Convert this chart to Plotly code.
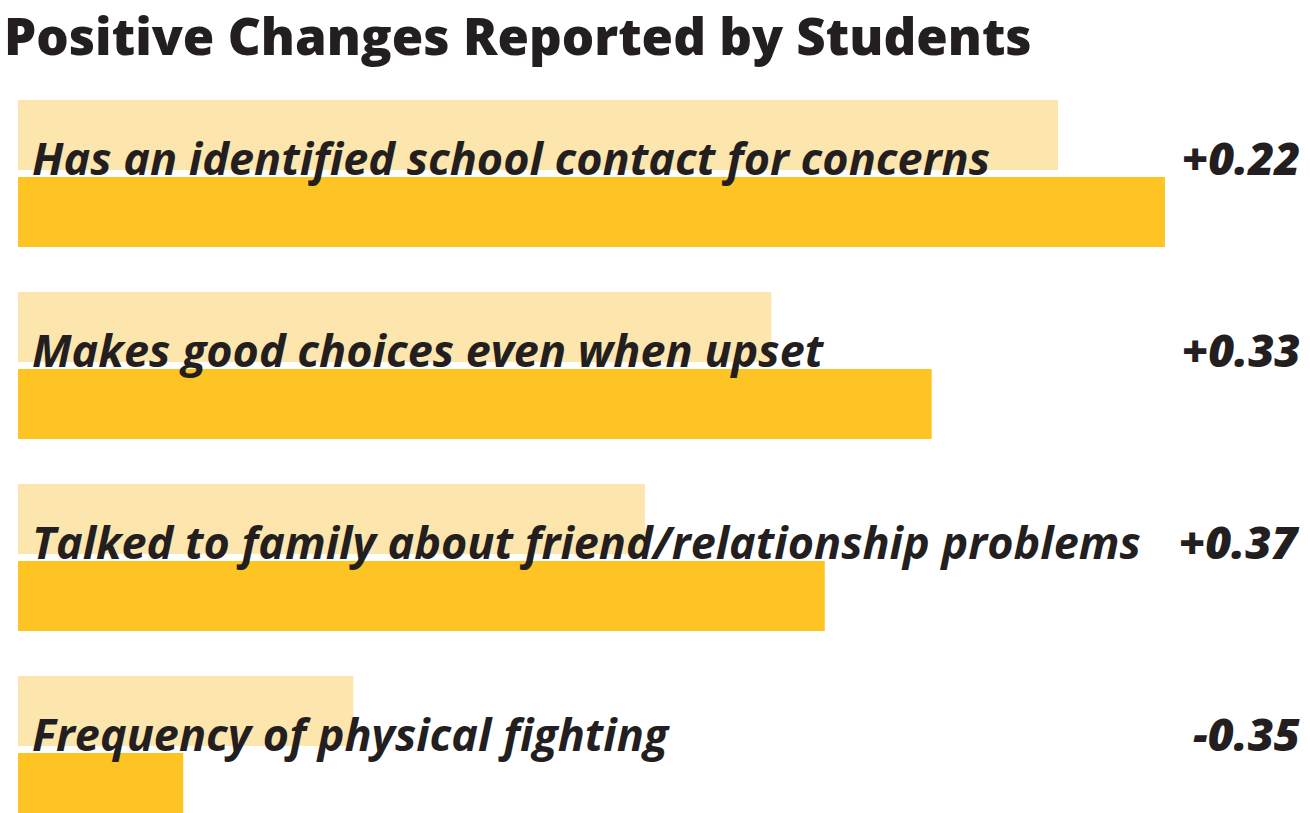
import plotly.graph_objects as go

categories = [
    "Has an identified school contact for concerns",
    "Makes good choices even when upset",
    "Talked to family about friend/relationship problems",
    "Frequency of physical fighting",
]
before = [2.14, 1.55, 1.29, 0.69]
after = [2.36, 1.88, 1.66, 0.34]
change_labels = ["+0.22", "+0.33", "+0.37", "-0.35"]

LIGHT = "#FDE5AE"
DARK = "#FDC423"
TEXT = "#231F20"
FONT = "Open Sans"

n = len(categories)
pos = [-i for i in range(n)]
off = 0.2005
bw = 70 / 192

fig = go.Figure()
fig.add_trace(go.Bar(
    x=before, y=[p + off for p in pos], orientation="h", width=bw,
    marker=dict(color=LIGHT, line=dict(width=0)), hoverinfo="skip", showlegend=False,
))
fig.add_trace(go.Bar(
    x=after, y=[p - off for p in pos], orientation="h", width=bw,
    marker=dict(color=DARK, line=dict(width=0)), hoverinfo="skip", showlegend=False,
))

for p, cat, ch in zip(pos, categories, change_labels):
    fig.add_annotation(
        x=0.024, y=p, xref="x", yref="y", text=f"<i>{cat}</i>",
        showarrow=False, xanchor="left", yanchor="middle", yshift=16,
        font=dict(family=FONT, size=45, color=TEXT, weight=700),
    )
    fig.add_annotation(
        x=1, y=p, xref="paper", yref="y", text=f"<i>{ch}</i>",
        showarrow=False, xanchor="right", yanchor="middle", yshift=16, xshift=-8,
        font=dict(family=FONT, size=45, color=TEXT, weight=800),
    )

fig.add_annotation(
    x=0, y=1, xref="paper", yref="paper", text="Positive Changes Reported by Students",
    showarrow=False, xanchor="left", yanchor="top", xshift=-16, yshift=2,
    font=dict(family=FONT, size=51, color=TEXT, weight=800),
)

ppu = 486
fig.update_layout(
    width=1310, height=813,
    margin=dict(l=18, r=0, t=0, b=0),
    paper_bgcolor="white", plot_bgcolor="white",
    barmode="overlay",
    xaxis=dict(range=[0, 1292 / ppu], visible=False, fixedrange=True),
    yaxis=dict(range=[-3 - (813 - 749.5) / 192, 173.5 / 192], visible=False, fixedrange=True),
)

fig.write_html("out.html")
